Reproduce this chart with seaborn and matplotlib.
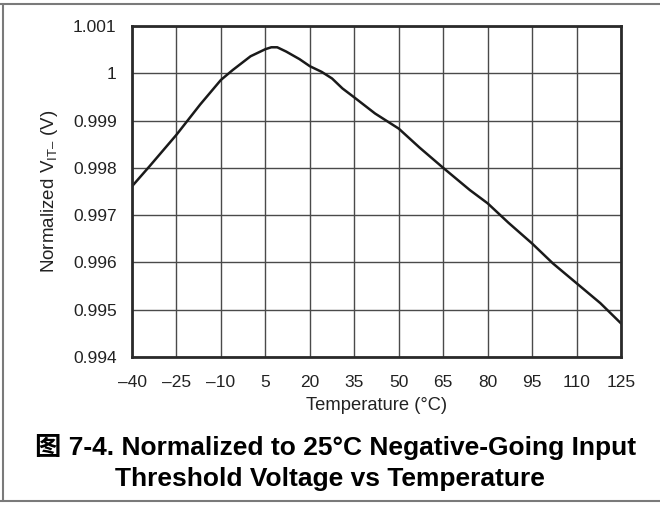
import matplotlib
matplotlib.use("Agg")
import matplotlib.pyplot as plt
import seaborn as sns
import pandas as pd
from matplotlib.lines import Line2D

# curve
temp_c = [-40, -34, -25, -17, -10, -6, 0, 5, 7, 9, 12, 16.5, 20, 24, 27.5, 31,
          35, 42, 50, 57, 65, 74, 80, 87, 95, 102, 110, 118, 125]
vit_norm = [0.99761, 0.99804, 0.99870, 0.99934, 0.99986, 1.00007, 1.00036,
            1.00051, 1.00055, 1.00055, 1.00046, 1.00030, 1.00015, 1.00003,
            0.99989, 0.99968, 0.99949, 0.99915, 0.99883, 0.99843, 0.99800,
            0.99753, 0.99725, 0.99684, 0.99640, 0.99598, 0.99556, 0.99514,
            0.99471]

x_ticks = [-40, -25, -10, 5, 20, 35, 50, 65, 80, 95, 110, 125]
x_labels = ["\u201340", "\u201325", "\u201310", "5", "20", "35", "50", "65",
            "80", "95", "110", "125"]
y_ticks = [0.994, 0.995, 0.996, 0.997, 0.998, 0.999, 1.000, 1.001]
y_labels = ["0.994", "0.995", "0.996", "0.997", "0.998", "0.999", "1", "1.001"]

sns.set_style("white")
plt.rcParams["font.family"] = ["Liberation Sans", "Noto Sans CJK SC", "DejaVu Sans"]
plt.rcParams["mathtext.fontset"] = "custom"
plt.rcParams["mathtext.rm"] = "Liberation Sans"

df = pd.DataFrame({"temp": temp_c, "v": vit_norm})

fig = plt.figure(figsize=(6.6, 5.08), dpi=100)
ax = fig.add_axes([0.2, 0.2972, 0.741, 0.6516])

sns.lineplot(data=df, x="temp", y="v", ax=ax, color="#1a1a1a", linewidth=1.8)

ax.set_xlim(-40, 125)
ax.set_ylim(0.994, 1.001)
ax.set_xticks(x_ticks)
ax.set_xticklabels(x_labels)
ax.set_yticks(y_ticks)
ax.set_yticklabels(y_labels)
ax.tick_params(length=0, labelsize=12.5, labelcolor="#222222")
ax.tick_params(axis="y", pad=11)
ax.tick_params(axis="x", pad=13)
ax.grid(True, color="#4a4a4a", linewidth=1.0)
for s in ax.spines.values():
    s.set_color("#2a2a2a")
    s.set_linewidth(2.0)
    s.set_visible(True)

ax.set_xlabel("Temperature (\u00b0C)", fontsize=13.2, color="#222222", labelpad=5)
ax.set_ylabel("Normalized V$_{\\mathregular{IT\u2013}}$ (V)", fontsize=13.5,
              color="#222222", labelpad=9)

fig.text(0.508, 0.1043, "\u56fe 7-4. Normalized to 25\u00b0C Negative-Going Input",
         ha="center", va="baseline", fontsize=19, fontweight="bold", color="black")
fig.text(0.5, 0.0433, "Threshold Voltage vs Temperature",
         ha="center", va="baseline", fontsize=19, fontweight="bold", color="black")

# page frame lines
fig.add_artist(Line2D([0.0045, 0.0045], [0.0144, 0.992], transform=fig.transFigure,
                      color="#7a7a7a", linewidth=1.5))
fig.add_artist(Line2D([0.0, 1.0], [0.992, 0.992], transform=fig.transFigure,
                      color="#7a7a7a", linewidth=1.5))
fig.add_artist(Line2D([0.0, 1.0], [0.0144, 0.0144], transform=fig.transFigure,
                      color="#7a7a7a", linewidth=1.5))

fig.savefig("out.png", dpi=100)
